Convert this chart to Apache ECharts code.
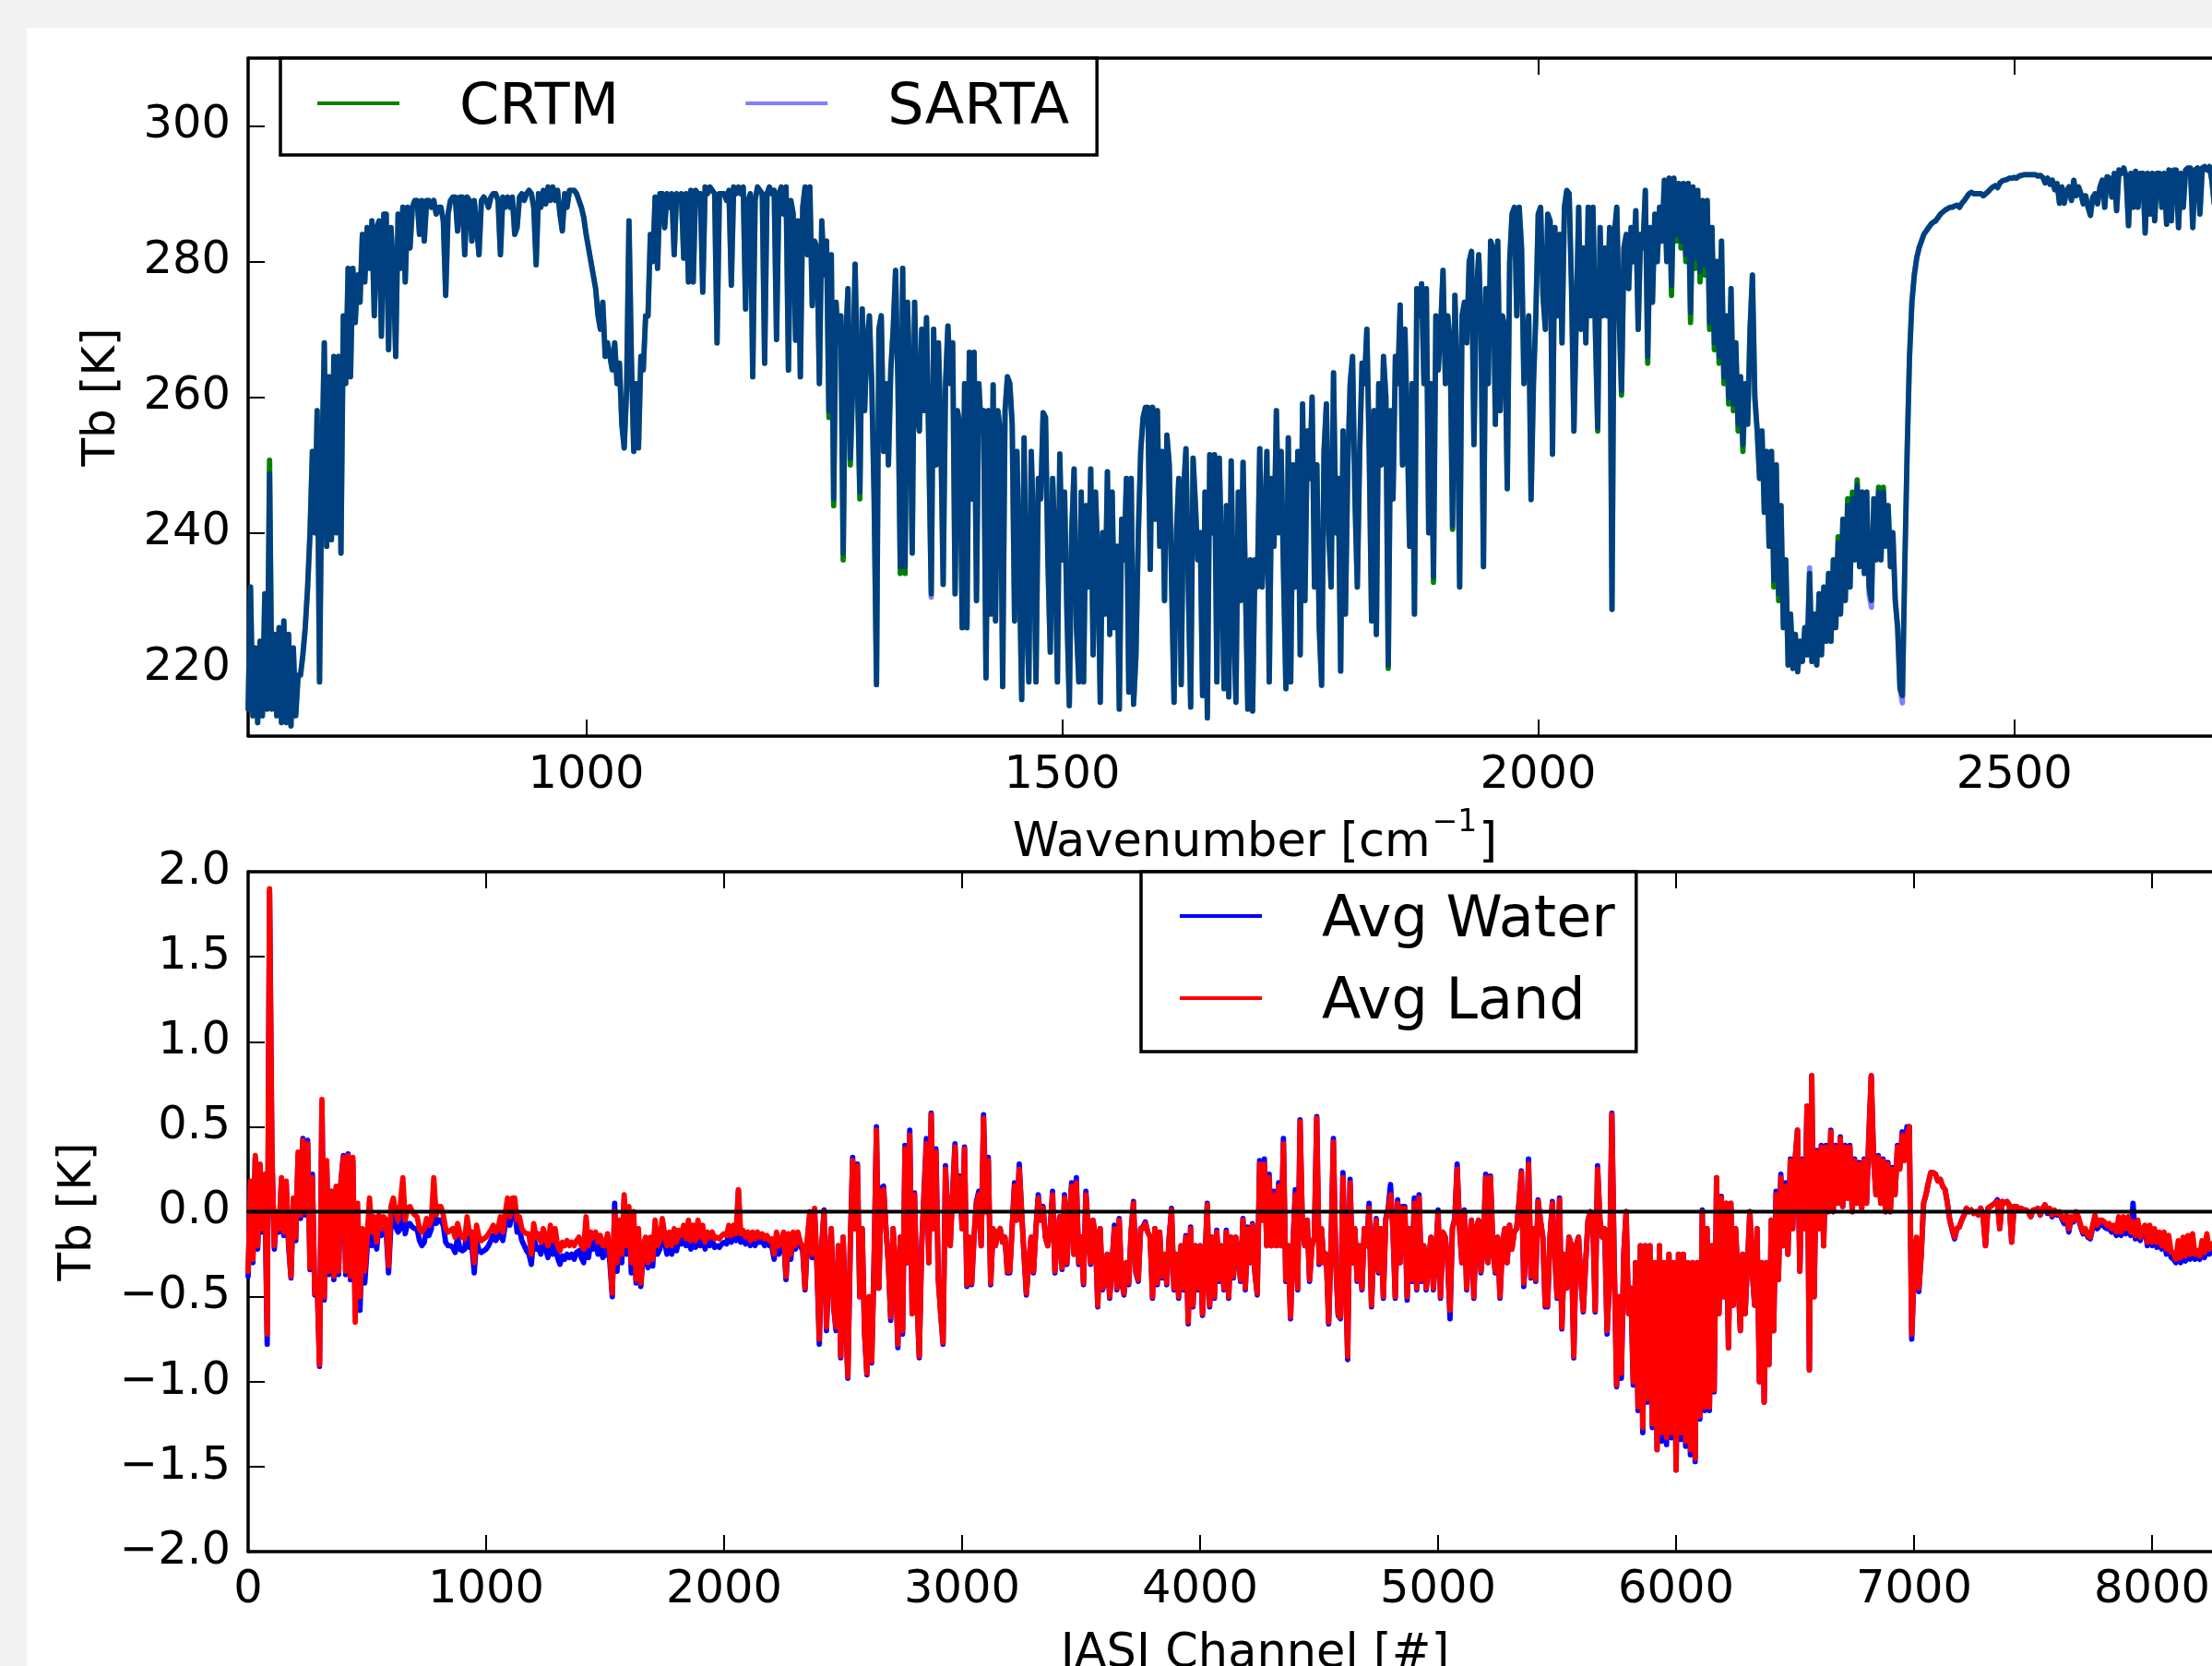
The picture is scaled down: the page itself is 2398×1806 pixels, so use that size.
<!DOCTYPE html>
<html><head><meta charset="utf-8">
<script src="https://cdn.jsdelivr.net/npm/echarts@6/dist/echarts.min.js"></script>
<style>
html,body{margin:0;padding:0;background:#f2f2f2;overflow:hidden;width:2398px;height:1806px}
#panel{position:absolute;left:29px;top:30px;width:2369px;height:1776px;background:#fff}
#chart{position:absolute;left:0;top:0;width:2470px;height:1806px}
</style></head><body><div id="panel"></div><div id="chart"></div>
<script>
// Tb [K], every 2.5 cm-1 starting at 645; one row = 100 cm-1
const crtmTb = [
214,232,213,223,212,224,213,231,214,250.7,214,225,213,226,212,227,212,225,211.5,223,213,219,219,222,226,232,240,252,240,258,218,250,268,238,263,239,266,240,266,237,
272,262,279,263,279,271,278,274,284,277,285,279,286,272,285,286,269,287,287,267,285,279,266,287,279,288,277,288,282,288,289,289,284,289,283,289,289,288,289,287,
288,288,286,275,287,289,289.5,289.5,284.5,289.5,289.5,281,289.5,289,283,289,285,281,289,289.5,289,288,289.5,290,290,289,281,289.5,288,289.5,288,289.5,284,285,289.5,290,289,290,290.5,290,
288,279.5,290,288,290.5,288.5,291,289,291,289,290.5,287,284.5,290,288,290.5,290.5,290.5,290,289,288,286.5,284,282,280,278,276,272,270,274,266,268,266,264,268,262,265,256,252.5,261,
286,266,252,262,252.5,266,264,272,272,284,280,289.5,279,290,290,285,290,288,290,281,290,289,290,280.5,290,277,290.5,277,290.5,290,290,275.5,291,290,291,290.5,290,268,290,290,
290,289,290.5,276.5,291,290,291,290,291,273,289,290,263,289,291,290.5,290,265,290,291,290,290.5,268.5,290,291,287,291,264,289,287,268.4,286,263,288,291,281,291,273.5,283,282,
262,286,278,283,257,281,244,274,268,272,236,268,276,250,262,279.6,262,245,273,258,268,272,262,245,217.6,270,272,252,262,250,264,270,278.7,262,234,279,234,274,262,237,
274,258,255,270,258,271.7,252,231,270,250,268,255,232.4,262,270.5,262,268,231,258,256,226,262,226,266.6,245,266.6,230,262,255,258,218.6,258,228,261.8,227,258,255,217.3,258,263,
262,256,227,252,235,215.4,254,228,218,252,240,218,248,245,257.7,257,236,222.4,248,238,218,251.6,236,246,228,214.5,240,249.4,226,218,246,218,244,232,249.4,222,246,236,215,240,
228,249,225,246,226,238,214,242,236,248,216.5,248,214.7,222,240,252,257,258.5,258.5,234.6,258.5,242,258,238,252,230,254.4,250,232,215,240,248,217.6,246,252.4,232,214.3,251,244,236,
240,216,246,212.7,251.5,240,251.5,218,251,236,217,244,215.8,250.6,228,215,246,230,250.4,232,214,236,213.7,236,232,252.4,232,240,252,218,248,238,258,240,252,234,217,254,218,250,
232,252,222,259,230,255,248,260,232,250,226,217.5,252,259,240,232,263.6,240,248,219.6,255,228,250,262,266,245,232,252,265,262,270,252,227,258,225,262,250,266,260,220,
258,245,266,262,273.6,250,270,255,238,262,228,276,272,276.7,262,276,240,262,232.7,272,264,270,278.7,262,272,268,240.5,275,262,232,272,274,268,280,281.5,253,275,281,270,235,
276,262,283,282,256,283,258,272,270,246.5,280,287,288,272,288,282,262,268,272,244.9,262,272,287,288,275,270,287,286,251.6,285,272,284,268,288,290.5,290,276,255,272,288,
270,282,268,288,272,288,270,255,285,272,282,272,285,228.7,284,288,272,260.3,282,284,276,285,280,287.5,270,284,282,290.5,265,285,274,287,280,288,283,292,280,292.3,275,292.3,
283,291.5,282,291.5,280,291.5,271,291,279,290.5,277,289,278,289,270,285,267,280,265,283,262,272,259,276,258,268,255,263,252,262,256,270,278,260,255,248,255,243,252,238,
252,232,250,230,244,226,236,220.5,228,220,225,219.5,224,221,226,222,234,221,228,220.5,231,222,232,224,234,224,236,226,239.4,228,242,230,245,232,246,236,247.8,235,246,234,
246,232,230,245,236,246.7,236,246.7,238,244,235,240,230,226,217,216,235,252,266,274,278,280.5,282,283,284,284.5,285,285.5,285.8,286,286.5,287,287.3,287.6,287.8,288,288,288.2,288.3,288,
288.6,289,289.5,290,290.2,290,290,290,290,289.7,290,290.3,290.7,291,291.2,290.9,291.6,291.9,292,292.1,292.3,292.3,292.4,292.3,292.6,292.7,292.8,292.8,292.8,292.8,292.8,292.8,292.6,292.7,292.4,291.6,292.3,291.4,292,290.6,
291.5,288.6,291,288.6,290.5,291,289,292,289.7,291,290,288.5,289.7,288,286.8,289.5,290,288.5,291,292,288,292.5,292.3,289.5,293,287.5,293.5,293,293.8,292.5,285.3,293,288,293.3,288,293,293,284.2,293,287,
293,286,293,293,288,293,285.5,293.5,286,293.5,293.5,285,293,288,293.5,293.8,293.8,285,293.5,293.8,287,293.8,294,293.5,294,292,288.5,293,293
];
// places where SARTA can be told apart from CRTM in the picture
const sartaWn = [667.5,1255,1260,1270,1277.5,1287.5,1330,1335,1362.5,1842.5,1890,1910,2062.5,2087.5,2115,2140,2145,2150,2155,2160,2165,2170,2175,2180,2185,2190,2195,2200,2205,2210,2215,2247.5,2252.5,2285,2315,2325,2330,2335,2347.5,2350,2357.5,2362.5,2382.5];
const sartaTb = [248.7,258,245,237,251,246,235,235,230.5,220.5,233.5,241,255.5,261,266,276.5,284,283,281,272.5,280.5,278.5,279.5,271,268,266,263,260,259,256,253,233,231,234.8,238.5,244,245,247,231,229,246,246,214.9];

// difference [K], every 10 channels; one row = 400 channels
const landDiff = [
-0.35,0.18,-0.28,0.33,-0.2,0.28,-0.1,0.22,-0.72,1.9,0.35,-0.2,0,-0.1,0.2,-0.12,0.18,-0.18,-0.38,0.08,-0.15,0.35,-0.02,0.42,0,0.4,-0.33,0.2,-0.48,-0.4,-0.9,0.66,-0.5,0.3,-0.35,0.12,-0.38,0.15,-0.35,0.17,
0.32,-0.35,0.33,-0.38,0.32,-0.65,0.05,-0.5,-0.1,-0.35,-0.15,0.08,-0.12,-0.03,-0.18,-0.02,-0.1,-0.03,-0.05,-0.32,0.03,0.08,0,-0.05,0.05,0.2,-0.05,0.02,0.03,0,-0.02,-0.03,-0.1,-0.12,-0.1,-0.04,-0.08,-0.05,0.2,-0.02,
0.03,0.03,-0.02,-0.1,-0.12,-0.11,-0.1,-0.15,-0.07,-0.13,-0.15,-0.16,-0.03,-0.13,-0.12,-0.3,-0.08,-0.15,-0.17,-0.16,-0.15,-0.13,-0.11,-0.08,-0.12,-0.1,-0.03,-0.12,-0.01,0.08,-0.03,0.08,0.08,-0.05,-0.03,-0.1,-0.12,-0.13,-0.13,-0.25,
-0.07,-0.15,-0.13,-0.18,-0.1,-0.15,-0.2,-0.08,-0.17,-0.1,-0.2,-0.23,-0.18,-0.2,-0.17,-0.2,-0.18,-0.2,-0.17,-0.15,-0.2,-0.22,-0.03,-0.2,-0.12,-0.15,-0.12,-0.18,-0.14,-0.2,-0.2,-0.13,-0.25,-0.48,0,-0.3,-0.05,-0.25,0.1,-0.2,
0.03,-0.3,0,-0.4,-0.1,-0.42,-0.2,-0.15,-0.3,-0.15,-0.28,-0.05,-0.2,-0.17,-0.04,-0.13,-0.2,-0.12,-0.2,-0.1,-0.18,-0.11,-0.14,-0.08,-0.16,-0.05,-0.17,-0.08,-0.17,-0.05,-0.15,-0.08,-0.18,-0.12,-0.15,-0.12,-0.16,-0.15,-0.16,-0.14,
-0.13,-0.14,-0.08,-0.14,-0.08,-0.13,0.13,-0.13,-0.11,-0.15,-0.12,-0.17,-0.12,-0.16,-0.12,-0.15,-0.13,-0.16,-0.14,-0.17,-0.16,-0.25,-0.12,-0.2,-0.17,-0.12,-0.38,-0.13,-0.25,-0.12,-0.2,-0.12,-0.18,-0.2,-0.45,-0.15,0,-0.25,0.02,-0.3,
-0.75,-0.2,0,-0.68,-0.3,-0.1,-0.55,-0.68,-0.2,-0.85,-0.15,-0.6,-0.97,-0.2,0.3,-0.1,0.27,-0.5,-0.1,-0.7,-0.95,-0.5,-0.88,-0.3,0.48,-0.45,0.12,0.13,-0.1,-0.3,-0.62,-0.1,-0.35,-0.78,-0.15,-0.7,0.37,-0.3,0.45,-0.6,
0.1,-0.5,-0.85,-0.2,0.1,0.4,-0.3,0.57,-0.1,0.35,-0.4,-0.6,-0.77,0.25,-0.05,-0.2,0.1,0.38,0.02,0.2,-0.1,0.37,-0.43,-0.15,-0.42,-0.15,0.05,0.1,-0.2,0.55,0,0.3,-0.42,-0.1,-0.2,-0.12,-0.1,-0.18,-0.15,-0.35,
-0.35,-0.1,0.15,-0.05,0.25,0,-0.25,-0.48,-0.3,-0.15,-0.35,-0.1,0.08,-0.05,0.02,-0.15,-0.2,-0.1,0.1,-0.35,-0.15,-0.03,-0.33,0.08,-0.3,-0.05,0.15,-0.25,0.17,-0.3,-0.15,-0.42,0.1,-0.1,-0.3,-0.05,-0.15,-0.55,-0.1,-0.45,
-0.4,-0.25,-0.5,-0.3,-0.1,-0.45,-0.05,-0.4,-0.48,-0.3,-0.42,-0.12,0.05,-0.35,-0.4,-0.1,-0.1,-0.07,-0.12,-0.15,-0.5,-0.1,-0.42,-0.12,-0.38,-0.25,-0.42,-0.15,0.01,-0.45,-0.25,-0.5,-0.2,-0.45,-0.15,-0.65,-0.1,-0.55,-0.2,-0.45,
-0.2,-0.6,-0.3,0.04,-0.55,-0.15,-0.5,-0.12,-0.4,-0.2,-0.45,-0.12,-0.5,-0.15,-0.38,-0.15,-0.25,-0.4,-0.05,-0.45,-0.1,-0.3,-0.08,-0.35,-0.48,0.28,-0.05,0.28,-0.2,0.2,-0.2,0.1,-0.2,0.15,-0.2,0.4,-0.4,-0.2,-0.62,-0.2,
0.1,-0.45,0.53,-0.1,-0.2,-0.05,-0.4,-0.2,-0.15,0.55,-0.3,-0.1,-0.3,-0.25,-0.65,-0.2,0.41,-0.3,-0.6,-0.62,0.2,-0.3,-0.85,0.17,-0.3,-0.1,-0.4,-0.2,-0.45,-0.1,-0.2,0.02,-0.55,-0.2,-0.05,-0.35,-0.1,-0.5,-0.05,0,
0.1,-0.1,-0.5,0.05,-0.3,0.02,0.02,-0.5,-0.1,-0.4,0.05,-0.45,0.08,-0.4,-0.2,-0.45,-0.3,-0.15,-0.45,-0.25,-0.02,-0.5,-0.12,-0.15,-0.3,-0.58,-0.1,-0.05,0.25,-0.1,-0.3,0,-0.45,-0.2,-0.05,-0.5,-0.1,-0.05,-0.35,-0.2,
0.2,-0.3,0.2,-0.2,-0.35,-0.15,-0.5,-0.2,-0.1,-0.3,-0.08,-0.22,-0.12,-0.1,0.05,0.23,-0.42,-0.2,0.28,-0.38,-0.1,-0.4,0.06,-0.05,-0.15,-0.55,-0.55,-0.15,0.05,-0.25,-0.5,0.07,-0.68,-0.25,-0.45,-0.15,-0.2,-0.85,-0.2,-0.15,
-0.4,-0.58,-0.3,-0.05,0,-0.05,-0.58,0.25,-0.05,-0.15,-0.1,-0.7,-0.4,0.57,-0.3,-1.02,-0.5,-0.95,-0.25,0,-0.6,-0.45,-1,-0.3,-1.15,-0.2,-1.27,-0.2,-1.1,-0.2,-1.25,-0.3,-1.4,-0.2,-1.3,-0.3,-1.33,-0.25,-1.3,-0.3,
-1.52,-0.25,-1.3,-0.25,-1.35,-0.3,-1.4,-0.3,-1.45,-0.3,-1.2,0,-1.15,-0.1,-1.15,-0.2,-1.05,0.2,-0.6,0.08,-0.5,0.05,-0.8,0.05,-0.55,-0.1,-0.4,-0.7,-0.25,-0.6,-0.3,0,-0.35,-0.55,-0.1,-1,-0.3,-1.12,-0.3,-0.9,
-0.05,-0.7,0.1,-0.4,0.2,-0.2,0.15,-0.25,0.3,-0.1,0.3,0.48,-0.35,0.3,-0.1,0.62,-0.93,0.8,-0.5,0.35,-0.1,0.38,-0.2,0.38,0,0.47,0,0.38,0.05,0.43,0.03,0.38,0.08,0.38,0,0.3,0.05,0.28,0.02,0.3,
0.05,0.45,0.8,0.3,0.1,0.32,0.05,0.3,0,0.28,0,0.25,0.1,0.38,0.25,0.45,0.3,0.45,0.5,-0.72,-0.35,-0.15,-0.45,-0.25,0.05,0.1,0.17,0.23,0.23,0.22,0.18,0.19,0.15,0.13,0.05,-0.05,-0.1,-0.15,-0.1,-0.09,
-0.05,-0.02,0.02,0,0.01,-0.01,0,-0.02,0.02,-0.03,-0.2,0.02,0.03,0.04,0.05,0.06,-0.1,0.06,0.05,0.06,0.04,-0.18,0.03,0.03,0.02,0.02,0.01,0.01,0,-0.03,0.01,0.01,0.02,-0.02,0.02,0.04,0,0.02,-0.02,0.01,
-0.01,0,-0.03,-0.05,-0.02,-0.1,-0.03,-0.05,0,-0.03,-0.08,-0.12,-0.1,-0.14,-0.15,-0.08,-0.02,-0.08,-0.05,-0.05,-0.06,-0.08,-0.07,-0.1,-0.08,-0.12,-0.03,-0.12,-0.03,-0.1,-0.03,-0.12,-0.06,-0.14,-0.05,-0.15,-0.1,-0.08,-0.18,-0.08,
-0.18,-0.1,-0.18,-0.12,-0.2,-0.12,-0.22,-0.14,-0.24,-0.24,-0.28,-0.17,-0.27,-0.15,-0.26,-0.14,-0.25,-0.13,-0.25,-0.23,-0.26,-0.17,-0.24,-0.13,-0.22,-0.2,-0.18
];
const waterDiff = [
-0.38,0.17,-0.3,0.32,-0.22,0.27,-0.12,0.2,-0.78,1.88,0.33,-0.22,-0.02,-0.12,0.18,-0.14,0.16,-0.2,-0.39,0.06,-0.17,0.33,-0.04,0.43,-0.02,0.42,-0.34,0.22,-0.49,-0.42,-0.91,0.64,-0.52,0.28,-0.37,0.12,-0.4,0.14,-0.37,0.18,
0.33,-0.37,0.34,-0.4,0.3,-0.6,0,-0.58,-0.15,-0.42,-0.22,0.02,-0.2,-0.08,-0.22,-0.07,-0.14,-0.1,-0.12,-0.36,-0.08,-0.02,-0.09,-0.12,-0.1,0.1,-0.13,-0.07,-0.07,-0.09,-0.1,-0.1,-0.17,-0.2,-0.18,-0.1,-0.14,-0.1,0.12,-0.07,
-0.05,-0.05,-0.08,-0.18,-0.2,-0.2,-0.21,-0.24,-0.15,-0.22,-0.23,-0.22,-0.1,-0.21,-0.2,-0.36,-0.17,-0.23,-0.24,-0.23,-0.22,-0.2,-0.17,-0.14,-0.17,-0.15,-0.09,-0.17,-0.08,0.02,-0.08,0.03,0.02,-0.12,-0.1,-0.17,-0.2,-0.23,-0.25,-0.31,
-0.14,-0.22,-0.21,-0.25,-0.17,-0.22,-0.27,-0.15,-0.25,-0.18,-0.27,-0.31,-0.26,-0.28,-0.25,-0.27,-0.25,-0.28,-0.24,-0.23,-0.27,-0.3,-0.1,-0.27,-0.18,-0.22,-0.17,-0.25,-0.19,-0.27,-0.25,-0.18,-0.3,-0.5,0.05,-0.35,-0.1,-0.3,0.07,-0.25,
-0.02,-0.36,-0.05,-0.42,-0.15,-0.44,-0.25,-0.2,-0.33,-0.2,-0.32,-0.08,-0.25,-0.22,-0.08,-0.18,-0.25,-0.16,-0.25,-0.15,-0.23,-0.16,-0.19,-0.13,-0.2,-0.1,-0.22,-0.13,-0.21,-0.1,-0.2,-0.13,-0.22,-0.17,-0.2,-0.17,-0.21,-0.2,-0.21,-0.19,
-0.18,-0.19,-0.12,-0.18,-0.13,-0.17,0.12,-0.18,-0.15,-0.19,-0.16,-0.2,-0.16,-0.2,-0.16,-0.18,-0.17,-0.2,-0.18,-0.2,-0.2,-0.28,-0.16,-0.25,-0.2,-0.16,-0.4,-0.17,-0.28,-0.15,-0.22,-0.15,-0.2,-0.23,-0.46,-0.17,-0.02,-0.27,0,-0.33,
-0.78,-0.2,0.01,-0.7,-0.3,-0.1,-0.56,-0.7,-0.2,-0.86,-0.15,-0.6,-0.98,-0.2,0.32,-0.1,0.28,-0.5,-0.1,-0.72,-0.96,-0.5,-0.89,-0.3,0.5,-0.45,0.14,0.15,-0.1,-0.3,-0.64,-0.1,-0.35,-0.8,-0.15,-0.72,0.39,-0.3,0.48,-0.6,
0.11,-0.5,-0.86,-0.2,0.12,0.43,-0.3,0.58,-0.1,0.37,-0.4,-0.6,-0.78,0.27,-0.05,-0.2,0.12,0.4,0.02,0.21,-0.1,0.38,-0.44,-0.15,-0.43,-0.15,0.06,0.12,-0.2,0.57,0,0.32,-0.43,-0.1,-0.2,-0.12,-0.1,-0.18,-0.15,-0.36,
-0.36,-0.1,0.17,-0.05,0.28,0,-0.25,-0.49,-0.3,-0.15,-0.36,-0.1,0.1,-0.05,0.03,-0.15,-0.2,-0.1,0.12,-0.36,-0.15,-0.03,-0.34,0.1,-0.31,-0.05,0.17,-0.25,0.2,-0.31,-0.15,-0.43,0.12,-0.1,-0.31,-0.05,-0.15,-0.56,-0.1,-0.46,
-0.41,-0.25,-0.51,-0.3,-0.08,-0.46,-0.04,-0.41,-0.49,-0.3,-0.43,-0.12,0.06,-0.36,-0.41,-0.1,-0.09,-0.06,-0.12,-0.15,-0.51,-0.1,-0.43,-0.12,-0.39,-0.25,-0.43,-0.15,0.02,-0.46,-0.25,-0.51,-0.2,-0.46,-0.14,-0.66,-0.09,-0.56,-0.2,-0.46,
-0.2,-0.61,-0.3,0.05,-0.56,-0.15,-0.51,-0.11,-0.41,-0.2,-0.46,-0.11,-0.51,-0.15,-0.39,-0.15,-0.25,-0.41,-0.04,-0.46,-0.09,-0.3,-0.07,-0.36,-0.49,0.3,-0.05,0.31,-0.2,0.22,-0.2,0.12,-0.2,0.17,-0.2,0.43,-0.41,-0.2,-0.63,-0.2,
0.13,-0.46,0.54,-0.1,-0.2,-0.05,-0.41,-0.2,-0.15,0.56,-0.31,-0.1,-0.3,-0.25,-0.66,-0.2,0.43,-0.3,-0.61,-0.63,0.23,-0.3,-0.87,0.19,-0.3,-0.1,-0.41,-0.2,-0.46,-0.1,-0.2,0.05,-0.56,-0.2,-0.04,-0.36,-0.1,-0.51,-0.04,0.02,
0.16,-0.1,-0.51,0.07,-0.3,0.03,0.03,-0.52,-0.1,-0.41,0.08,-0.46,0.1,-0.41,-0.2,-0.46,-0.3,-0.15,-0.46,-0.25,0.01,-0.51,-0.12,-0.15,-0.3,-0.63,-0.1,-0.04,0.28,-0.1,-0.3,0.01,-0.46,-0.2,-0.05,-0.51,-0.1,-0.05,-0.36,-0.2,
0.22,-0.3,0.21,-0.2,-0.36,-0.15,-0.51,-0.2,-0.1,-0.3,-0.08,-0.22,-0.12,-0.1,0.06,0.24,-0.44,-0.2,0.31,-0.39,-0.1,-0.41,0.07,-0.05,-0.15,-0.56,-0.56,-0.15,0.06,-0.25,-0.51,0.08,-0.69,-0.25,-0.45,-0.15,-0.2,-0.86,-0.2,-0.15,
-0.4,-0.59,-0.3,-0.05,0,-0.05,-0.59,0.27,-0.05,-0.15,-0.1,-0.72,-0.4,0.58,-0.3,-1.03,-0.5,-0.98,-0.25,0,-0.6,-0.45,-1.02,-0.3,-1.17,-0.2,-1.3,-0.2,-1.12,-0.2,-1.27,-0.3,-1.4,-0.2,-1.35,-0.3,-1.37,-0.25,-1.33,-0.3,
-1.52,-0.25,-1.34,-0.25,-1.38,-0.3,-1.43,-0.3,-1.47,-0.3,-1.22,0.01,-1.17,-0.1,-1.17,-0.2,-1.06,0.2,-0.6,0.09,-0.5,0.05,-0.8,0.05,-0.55,-0.1,-0.4,-0.7,-0.25,-0.6,-0.3,0,-0.35,-0.55,-0.1,-1,-0.3,-1.12,-0.3,-0.9,
-0.05,-0.7,0.12,-0.4,0.22,-0.2,0.17,-0.25,0.31,-0.1,0.31,0.48,-0.35,0.31,-0.1,0.62,-0.93,0.8,-0.5,0.36,-0.1,0.39,-0.2,0.39,0,0.48,0,0.39,0.05,0.44,0.03,0.39,0.08,0.39,0,0.31,0.05,0.29,0.02,0.31,
0.05,0.45,0.8,0.3,0.1,0.33,0.05,0.31,0,0.29,0,0.26,0.1,0.39,0.26,0.47,0.31,0.5,0.5,-0.75,-0.37,-0.16,-0.47,-0.25,0.05,0.1,0.17,0.23,0.23,0.22,0.18,0.19,0.15,0.13,0.05,-0.05,-0.11,-0.16,-0.1,-0.09,
-0.05,-0.02,0.02,0,0.01,-0.01,0,-0.02,0.02,-0.03,-0.2,0.02,0.03,0.04,0.05,0.07,-0.1,0.06,0.05,0.06,0.04,-0.18,0.03,0.03,0.02,0.02,0.01,0.01,0,-0.03,0.01,0.01,0.02,-0.02,0.02,0.04,-0.01,0.01,-0.03,0,
-0.02,-0.01,-0.04,-0.07,-0.03,-0.12,-0.04,-0.06,-0.01,-0.04,-0.09,-0.13,-0.12,-0.15,-0.16,-0.1,-0.05,-0.1,-0.08,-0.07,-0.09,-0.1,-0.1,-0.12,-0.11,-0.14,-0.07,-0.14,-0.06,-0.13,-0.06,-0.14,0.05,-0.16,-0.08,-0.17,-0.12,-0.1,-0.2,-0.11,
-0.2,-0.13,-0.21,-0.15,-0.22,-0.15,-0.25,-0.2,-0.27,-0.28,-0.3,-0.25,-0.3,-0.24,-0.29,-0.24,-0.28,-0.23,-0.28,-0.26,-0.28,-0.24,-0.27,-0.22,-0.25,-0.23,-0.22
];
const zeroLine = [0, 0];
const wnTicks = [1000, 1500, 2000, 2500];
const tbTicks = [220, 240, 260, 280, 300];
const channelTicks = [0, 1000, 2000, 3000, 4000, 5000, 6000, 7000, 8000];
const diffTicks = [-2, -1.5, -1, -0.5, 0, 0.5, 1, 1.5, 2];

const crtmPts = crtmTb.map((v, i) => [645 + 2.5 * i, v]);
const sartaMap = new Map(sartaWn.map((w, i) => [w, sartaTb[i]]));
const sartaPts = crtmTb.map((v, i) => { const w = 645 + 2.5 * i; return [w, sartaMap.has(w) ? sartaMap.get(w) : v]; });
const waterPts = waterDiff.map((v, i) => [10 * i, v]);
const landPts = landDiff.map((v, i) => [10 * i, v]);

const FONT = 'DejaVu Sans';
const TICKFS = 49.5;
const tick = (vals) => ({ show: true, inside: true, length: 18, customValues: vals, lineStyle: { color: '#000', width: 2 } });
const line = { show: true, onZero: false, lineStyle: { color: '#000', width: 3.5 } };
const label = (vals, margin, fmt) => ({ show: true, customValues: vals, margin, fontFamily: FONT, fontSize: TICKFS, color: '#000', formatter: fmt, hideOverlap: false });
const fmtDiff = v => (v < 0 ? '\u2212' : '') + Math.abs(v).toFixed(1);
const nameStyle = { fontFamily: FONT, fontSize: 49.5, color: '#000',
  rich: { a: { fontFamily: FONT, fontSize: 51, color: '#000', lineHeight: 64, verticalAlign: 'bottom' },
          s: { fontFamily: FONT, fontSize: 33, color: '#000', lineHeight: 64, verticalAlign: 'top', padding: [0, 2, 0, 2] } } };
const xaxis = (grid, min, max, vals, name, top, gap, margin) => ({
  type: 'value', gridIndex: grid, min, max, position: top ? 'top' : 'bottom', scale: true,
  axisLine: line, axisTick: tick(vals), splitLine: { show: false },
  axisLabel: top ? { show: false } : label(vals, margin, v => String(v)),
  name: top ? '' : name, nameLocation: 'middle', nameGap: gap,
  nameTextStyle: nameStyle
});
const yaxis = (grid, min, max, vals, fmt, gap) => ({
  type: 'value', gridIndex: grid, min, max, position: 'left',
  axisLine: line, axisTick: tick(vals), splitLine: { show: false },
  axisLabel: label(vals, 19, fmt),
  name: 'Tb [K]', nameLocation: 'middle', nameGap: gap, nameRotate: 90,
  nameTextStyle: { fontFamily: FONT, fontSize: 50, color: '#000' }
});
const ser = (name, data, x, y, color, opacity, z, w) => ({
  name, type: 'line', data, xAxisIndex: x, yAxisIndex: y, showSymbol: false, symbol: 'none',
  smooth: false, animation: false, z, clip: true, silent: true, connectNulls: false,
  lineStyle: { color, width: w, opacity, cap: 'round', join: 'round' }, itemStyle: { color, opacity }
});
const legendBase = {
  show: true, backgroundColor: '#fff', borderColor: '#000', borderWidth: 3.5, borderRadius: 0,
  itemWidth: 89, itemHeight: 16, icon: 'path://M0,0H89V4H0ZM0,16H0.01V16Z', selectedMode: false,
  textStyle: { fontFamily: FONT, fontSize: 62, color: '#000', padding: [0, 0, 0, 60] }
};
const chart = echarts.init(document.getElementById('chart'), null, { renderer: 'canvas', width: 2470, height: 1806 });
chart.setOption({
  animation: false,
  backgroundColor: 'transparent',
  grid: [
    { left: 269, top: 63, width: 2183, height: 735, outerBoundsMode: 'none' },
    { left: 269, top: 945, width: 2183, height: 737, outerBoundsMode: 'none' }
  ],
  xAxis: [
    xaxis(0, 645, 2760, wnTicks, '{a|Wavenumber [cm}{s|\u22121}{a|]}', false, 78, 18),
    xaxis(0, 645, 2760, wnTicks, '', true, 0, 0),
    xaxis(1, 0, 8461, channelTicks, '{a|IASI Channel [#]}', false, 73, 17),
    xaxis(1, 0, 8461, channelTicks, '', true, 0, 0)
  ],
  yAxis: [
    yaxis(0, 210, 310, tbTicks, v => String(v), 133),
    yaxis(1, -2, 2, diffTicks, fmtDiff, 159)
  ],
  legend: [
    Object.assign({}, legendBase, { data: ['CRTM', 'SARTA'], left: 304, top: 63, orient: 'horizontal', itemGap: 137, padding: [24, 30, 19, 40] }),
    Object.assign({}, legendBase, { data: ['Avg Water', 'Avg Land'], left: 1237, top: 945, orient: 'vertical', itemGap: 27, padding: [23, 23, 21, 42] })
  ],
  series: [
    ser('CRTM', crtmPts, 0, 0, '#008000', 1, 2, 5.8),
    ser('SARTA', sartaPts, 0, 0, '#0000ff', 0.5, 3, 5.8),
    ser('Avg Water', waterPts, 2, 1, '#0000ff', 1, 2, 5.8),
    ser('Avg Land', landPts, 2, 1, '#ff0000', 1, 3, 5.8),
    ser('zero', [[0, zeroLine[0]], [8461, zeroLine[1]]], 2, 1, '#000', 1, 4, 4)
  ]
});
</script></body></html>
